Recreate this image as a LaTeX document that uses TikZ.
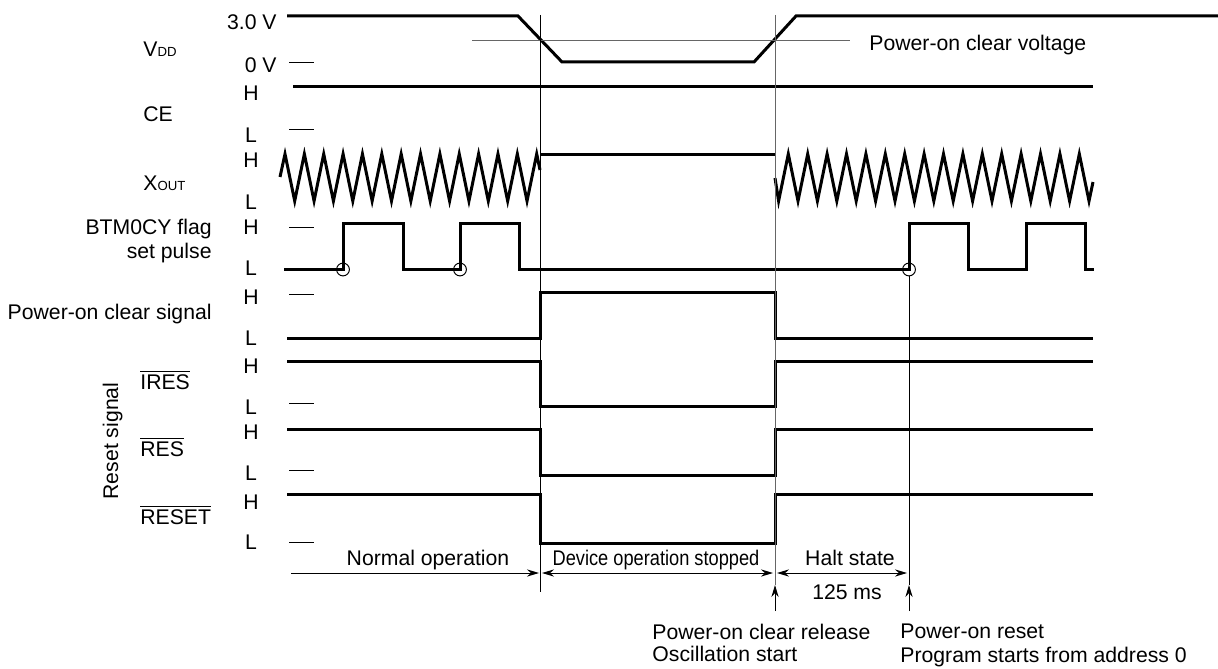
\documentclass[tikz,border=0pt]{standalone}
\usepackage{fontspec}
\setmainfont{Liberation Sans}
\usepackage{tikz}
\usetikzlibrary{arrows.meta}

\begin{document}
\begin{tikzpicture}[x=0.5pt,y=-0.5pt,
  every node/.style={inner sep=0pt,text height=0.716em,text depth=0pt,font=\fontsize{10.6}{12}\selectfont},
  sig/.style={line width=1.5pt,line join=miter},
  guide/.style={line width=0.5pt},
  dimr/.style={line width=0.5pt,-{Stealth[length=6pt,width=3.6pt]}},
  dimlr/.style={line width=0.5pt,{Stealth[length=6pt,width=3.6pt]}-{Stealth[length=6pt,width=3.6pt]}}]
  \useasboundingbox (0,0) rectangle (1218,668);

  \draw[sig] (287,16) -- (518,16) -- (562,62) -- (754,62) -- (796,16) -- (1218,16);
  \draw[guide,black!60] (472,41) -- (850,41);
  \node[anchor=west] (pocv) at (869,43) {Power-on clear voltage};
  \node[anchor=east] (v3) at (277,22) {3.0 V};
  \node[anchor=east] (v0) at (277,65) {0 V};
  \node[anchor=west] (vdd) at (143,49) {V{\fontsize{6.6}{7}\selectfont DD}};

  \draw[sig] (293,87) -- (1093,87);
  \node[anchor=west] (ce) at (143,114) {CE};

  \draw[sig] (280,177) foreach \k in {0,...,12} { -- ({285+19.36*\k},154) -- ({294.7+19.36*\k},201) } -- (536.7,154) -- (540,170);
  \draw[sig] (540,155) -- (775,155);
  \draw[sig] (775,178) foreach \k in {0,...,15} { -- ({778.6+19.4*\k},201) -- ({788.3+19.4*\k},154) } -- (1089,201) -- (1093,182);
  \node[anchor=west] (xout) at (143,183) {X{\fontsize{6.6}{7}\selectfont OUT}};

  \draw[sig] (284,269) -- (343,269) -- (343,223) -- (403,223) -- (403,269) -- (460,269) -- (460,223) -- (519,223) -- (519,269)
    -- (909,269) -- (909,223) -- (968,223) -- (968,269) -- (1026,269) -- (1026,223) -- (1085,223) -- (1085,269) -- (1094,269);
  \foreach \x in {343,460,909}
    \draw[guide] (\x,269.5) circle[radius=3.2pt];
  \node[anchor=east] (btm) at (212,227) {BTM0CY flag};
  \node[anchor=east] (btmp) at (212,251) {set pulse};

  \draw[sig] (287,338) -- (540,338) -- (540,292) -- (775,292) -- (775,338) -- (1093,338);
  \node[anchor=east] (poc) at (212,312) {Power-on clear signal};

  \foreach \h/\l in {361/406,429/475,494/543}
    \draw[sig] (287,\h) -- (540,\h) -- (540,\l) -- (775,\l) -- (775,\h) -- (1093,\h);
  \node[anchor=west] (ires) at (140,382) {$\overline{\mbox{IRES}}$};
  \node[anchor=west] (res) at (140,449) {$\overline{\mbox{RES}}$};
  \node[anchor=west] (reset) at (140,517) {$\overline{\mbox{RESET}}$};
  \node[rotate=90] (rsig) at (111,441) {Reset signal};

  \foreach \y/\t in {93/H,135/L,160/H,202/L,227/H,268/L,297/H,338/L,366/H,407/L,432/H,473/L,502/H,542/L}
    \node (lv\y) at (251,\y) {\t};
  \foreach \y in {63,130,227,294,403,470,542}
    \draw[guide] (289,\y) -- (314,\y);

  \coordinate (stop) at (540,573);
  \coordinate (rel) at (775,573);
  \coordinate (por) at (909,573);
  \draw[guide] (540,15) -- (540,592);
  \draw[guide,black!60] (775,15) -- (775,585);
  \draw[guide] (909,276) -- (909,585);
  \draw[dimr] (291,573) -- ([xshift=-0.5pt]stop);
  \draw[dimlr] ([xshift=1pt]stop) -- ([xshift=-1pt]rel);
  \draw[dimlr] ([xshift=1pt]rel) -- ([xshift=-1pt]por);
  \draw[dimr] (775,611) -- (775,585);
  \draw[dimr] (909,611) -- (909,585);

  \node (normal) at (428,558) {Normal operation};
  \node (stopped) at (656,558) {\scalebox{0.86}[1]{Device operation stopped}};
  \node (halt) at (850,558) {Halt state};
  \node (ms) at (847,592) {125 ms};
  \node[anchor=west] (rel1) at (652,632) {Power-on clear release};
  \node[anchor=west] (rel2) at (652,654) {Oscillation start};
  \node[anchor=west] (por1) at (900,631) {Power-on reset};
  \node[anchor=west] (por2) at (900,655) {Program starts from address 0};
\end{tikzpicture}
\end{document}
